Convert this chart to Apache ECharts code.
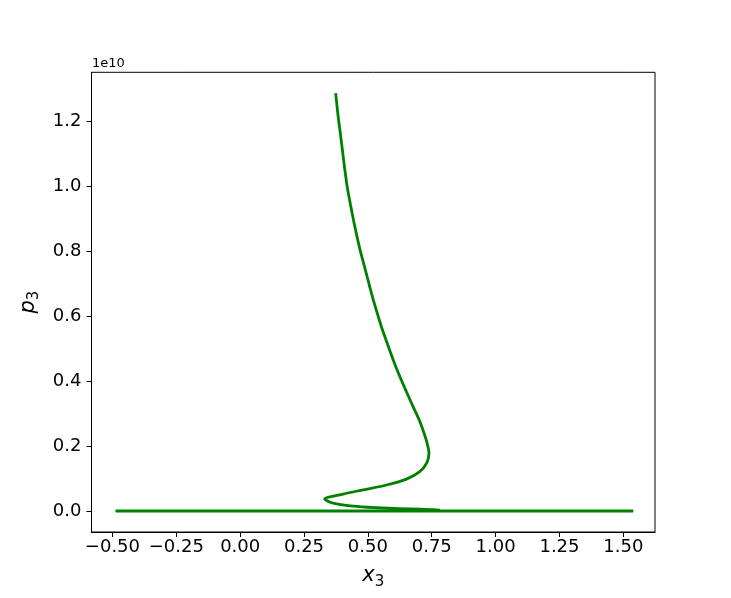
<!DOCTYPE html>
<html>
<head>
<meta charset="utf-8">
<script src="https://cdn.jsdelivr.net/npm/echarts@6/dist/echarts.min.js"></script>
<style>
html,body{margin:0;padding:0;background:#fff;}
#chart{width:731px;height:598px;}
</style>
</head>
<body>
<div id="chart"></div>
<script>
// Curve values (x3, p3)
var curveX = [0.374, 0.383, 0.393, 0.401, 0.410, 0.420, 0.432, 0.445, 0.459, 0.471, 0.482, 0.497, 0.514, 0.533, 0.553, 0.573, 0.599, 0.625, 0.651, 0.677, 0.701, 0.721, 0.732, 0.739, 0.730, 0.703, 0.651, 0.573, 0.481, 0.403, 0.331, 0.364, 0.442, 0.534, 0.625, 0.703, 0.782];
var curveP = [1.286e10, 1.218e10, 1.157e10, 1.106e10, 1.049e10, 0.993e10, 0.942e10, 0.890e10, 0.839e10, 0.798e10, 0.766e10, 0.721e10, 0.670e10, 0.618e10, 0.567e10, 0.522e10, 0.465e10, 0.414e10, 0.367e10, 0.321e10, 0.280e10, 0.237e10, 0.208e10, 0.178e10, 0.147e10, 0.121e10, 0.098e10, 0.080e10, 0.065e10, 0.052e10, 0.037e10, 0.024e10, 0.015e10, 0.010e10, 0.007e10, 0.006e10, 0.003e10];
// Flat branch along p3 = 0
var flatX = [-0.488, 0.0, 0.5, 1.0, 1.539];
var flatP = [0, 0, 0, 0, 0];
// Tick values and labels
var xTicks = [-0.5, -0.25, 0, 0.25, 0.5, 0.75, 1.0, 1.25, 1.5];
var xTickLabels = ['\u22120.50', '\u22120.25', '0.00', '0.25', '0.50', '0.75', '1.00', '1.25', '1.50'];
var yTicks = [0, 0.2e10, 0.4e10, 0.6e10, 0.8e10, 1.0e10, 1.2e10];
var yTickLabels = ['0.0', '0.2', '0.4', '0.6', '0.8', '1.0', '1.2'];

function zip(a, b) { return a.map(function (v, i) { return [v, b[i]]; }); }
function labelFor(ticks, labels) {
  return function (v) {
    for (var i = 0; i < ticks.length; i++) {
      if (Math.abs(ticks[i] - v) < 1e-6 * (Math.abs(ticks[i]) + 1)) return labels[i];
    }
    return '';
  };
}

var FONT = 'DejaVu Sans';
var chart = echarts.init(document.getElementById('chart'), null, {renderer: 'canvas'});
chart.setOption({
  animation: false,
  backgroundColor: '#fff',
  grid: {left: 91.5, top: 72.3, width: 563.5, height: 459.7, show: true, borderColor: '#000', borderWidth: 1, backgroundColor: 'transparent', outerBoundsMode: 'none', containLabel: false},
  xAxis: {
    type: 'value', min: -0.582, max: 1.624,
    axisLine: {show: true, onZero: false, lineStyle: {color: '#000', width: 1}},
    axisTick: {show: true, inside: false, length: 5, lineStyle: {color: '#000', width: 1}, customValues: xTicks},
    axisLabel: {show: true, customValues: xTicks, formatter: labelFor(xTicks, xTickLabels), color: '#000', fontSize: 18, fontFamily: FONT, margin: 6},
    splitLine: {show: false},
    name: '{i|x}{s|3}', nameLocation: 'middle', nameGap: 31,
    nameTextStyle: {rich: {
      i: {fontSize: 21, fontStyle: 'italic', fontFamily: FONT, color: '#000', lineHeight: 26},
      s: {fontSize: 15, fontFamily: FONT, color: '#000', lineHeight: 26, padding: [12, 0, 0, 0]}
    }}
  },
  yAxis: {
    type: 'value', min: -0.0646e10, max: 1.35e10,
    axisLine: {show: true, onZero: false, lineStyle: {color: '#000', width: 1}},
    axisTick: {show: true, inside: false, length: 5, lineStyle: {color: '#000', width: 1}, customValues: yTicks},
    axisLabel: {show: true, customValues: yTicks, formatter: labelFor(yTicks, yTickLabels), color: '#000', fontSize: 18, fontFamily: FONT, margin: 10},
    splitLine: {show: false},
    name: '{i|p}{s|3}', nameLocation: 'middle', nameRotate: 90, nameGap: 48,
    nameTextStyle: {rich: {
      i: {fontSize: 21, fontStyle: 'italic', fontFamily: FONT, color: '#000', lineHeight: 26},
      s: {fontSize: 15, fontFamily: FONT, color: '#000', lineHeight: 26, padding: [12, 0, 0, 0]}
    }}
  },
  graphic: [{
    type: 'text', left: 92, top: 57,
    style: {text: '1e10', fontSize: 13, fontFamily: FONT, fill: '#000'}
  }],
  series: [
    {type: 'line', data: zip(flatX, flatP), showSymbol: false, smooth: false,
     lineStyle: {color: '#008000', width: 3}, itemStyle: {color: '#008000'}, z: 3},
    {type: 'line', data: zip(curveX, curveP), showSymbol: false, smooth: 0.3,
     lineStyle: {color: '#008000', width: 2.8}, itemStyle: {color: '#008000'}, z: 4}
  ]
});
</script>
</body>
</html>
